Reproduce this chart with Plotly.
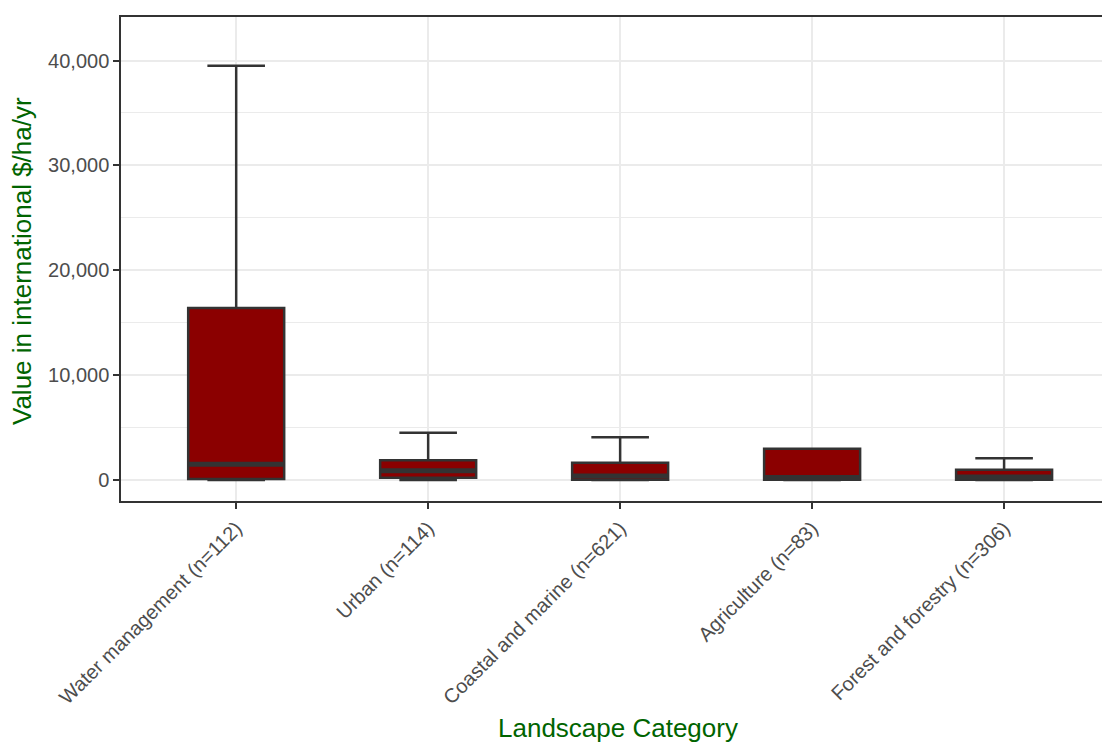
import plotly.graph_objects as go

# Summary statistics per landscape category (international $/ha/yr)
categories = [
    "Water management (n=112)",
    "Urban (n=114)",
    "Coastal and marine (n=621)",
    "Agriculture (n=83)",
    "Forest and forestry (n=306)",
]
lower_whisker = [0, 0, 0, 0, 0]
q1_values = [100, 220, 30, 20, 20]
median_values = [1510, 880, 380, 250, 300]
q3_values = [16400, 1880, 1650, 2990, 990]
upper_whisker = [39500, 4510, 4070, 2990, 2070]

y_tick_values = [0, 10000, 20000, 30000, 40000]
y_tick_labels = ["0", "10,000", "20,000", "30,000", "40,000"]

FONT = "Liberation Sans, Arial, sans-serif"
GRID = "#EBEBEB"
AXIS = "#333333"
TICK_TEXT = "#4D4D4D"
TITLE_GREEN = "#006400"

fig = go.Figure()

# Boxes with whiskers and caps
fig.add_trace(
    go.Box(
        x=categories,
        q1=q1_values,
        median=median_values,
        q3=q3_values,
        lowerfence=lower_whisker,
        upperfence=upper_whisker,
        fillcolor="#8B0000",
        line=dict(color=AXIS, width=2.5),
        whiskerwidth=0.6,
        boxpoints=False,
        hoverinfo="y",
        showlegend=False,
    )
)

# Heavier median bar drawn on top of each box
fig.add_trace(
    go.Box(
        x=categories,
        q1=median_values,
        median=median_values,
        q3=median_values,
        lowerfence=median_values,
        upperfence=median_values,
        fillcolor="rgba(0,0,0,0)",
        line=dict(color=AXIS, width=5),
        whiskerwidth=0,
        boxpoints=False,
        hoverinfo="skip",
        showlegend=False,
    )
)

fig.update_layout(
    width=1102,
    height=744,
    margin=dict(l=121, r=0, t=17, b=243),
    paper_bgcolor="white",
    plot_bgcolor="white",
    boxmode="overlay",
    boxgap=0.5,
    boxgroupgap=0,
    font=dict(family=FONT, size=20, color=TICK_TEXT),
    xaxis=dict(
        range=[-0.6, 4.51],
        tickangle=-45,
        showgrid=True,
        gridcolor=GRID,
        gridwidth=1.5,
        showline=True,
        linecolor=AXIS,
        linewidth=1.5,
        mirror=True,
        ticks="outside",
        ticklen=6,
        tickwidth=1.5,
        tickcolor=AXIS,
        tickfont=dict(family=FONT, size=20, color=TICK_TEXT),
        zeroline=False,
    ),
    yaxis=dict(
        range=[-2000, 44150],
        tickvals=y_tick_values,
        ticktext=y_tick_labels,
        showgrid=True,
        gridcolor=GRID,
        gridwidth=1.5,
        minor=dict(dtick=5000, tick0=0, showgrid=True, gridcolor=GRID, gridwidth=1, ticks=""),
        showline=True,
        linecolor=AXIS,
        linewidth=1.5,
        mirror=False,
        ticks="outside",
        ticklen=6,
        tickwidth=1.5,
        tickcolor=AXIS,
        tickfont=dict(family=FONT, size=20, color=TICK_TEXT),
        zeroline=False,
    ),
    annotations=[
        dict(
            text="Landscape Category",
            xref="paper", yref="paper",
            x=(618 - 121) / 981, y=(501 - 728) / 484,
            xanchor="center", yanchor="middle",
            showarrow=False,
            font=dict(family=FONT, size=26, color=TITLE_GREEN),
        ),
        dict(
            text="Value in international $/ha/yr",
            xref="paper", yref="paper",
            x=(22 - 121) / 981, y=(501 - 261) / 484,
            xanchor="center", yanchor="middle",
            textangle=-90,
            showarrow=False,
            font=dict(family=FONT, size=26, color=TITLE_GREEN),
        ),
    ],
)

fig.write_html("out.html")
